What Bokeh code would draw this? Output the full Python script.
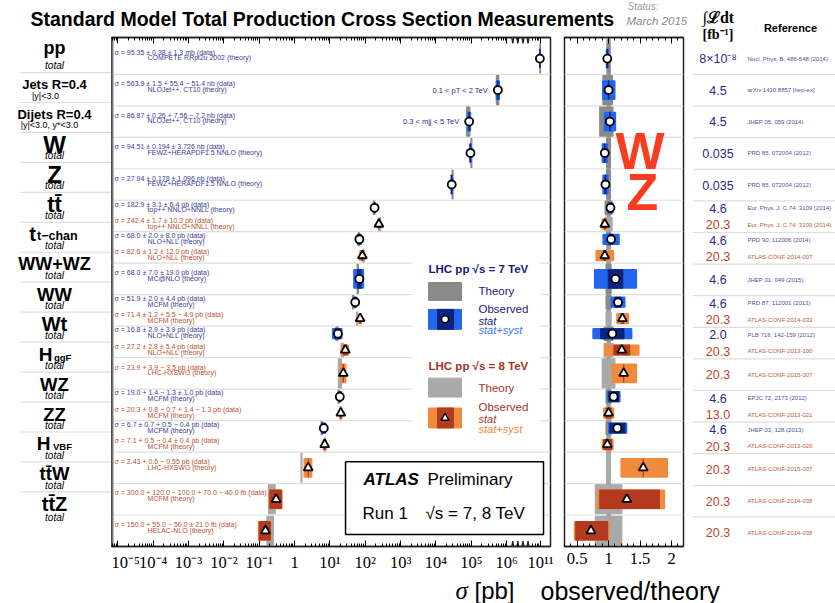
import math
from bokeh.plotting import figure
from bokeh.models import Range1d, FixedTicker, LinearAxis, ColumnDataSource
from bokeh.layouts import row, column
from bokeh.embed import file_html
from bokeh.resources import INLINE
from bokeh.core.properties import value

# ---------------------------------------------------------------- data
processes = ["pp", "Jets", "Dijets", "W", "Z", "ttbar", "t t-chan", "WW+WZ", "WW", "Wt",
             "H ggF", "WZ", "ZZ", "H VBF", "ttW", "ttZ"]
row_label = ["pp", "Jets R=0.4", "Dijets R=0.4", "W", "Z", "tt\u0304", "t", "WW+WZ", "WW", "Wt",
             "H", "WZ", "ZZ", "H", "tt\u0304W", "tt\u0304Z"]
row_label_sub = ["", "", "", "", "", "", "t\u2212chan", "", "", "", "ggF", "", "", "VBF", "", ""]
row_label_below = ["total", "|y|<3.0", "|y|<3.0, y*<3.0"] + ["total"] * 13

meas_row = [0, 1, 2, 3, 4, 5, 5, 6, 6, 7, 8, 8, 9, 9, 10, 11, 11, 12, 12, 13, 14, 15]
meas_energy = [7, 7, 7, 7, 7, 7, 8, 7, 8, 7, 7, 8, 7, 8, 8, 7, 8, 7, 8, 8, 8, 8]
sigma_pb = [95.35e9, 563.9e3, 86.87e3, 94.51e3, 27.94e3, 182.9, 242.4, 68.0, 82.6, 68.0,
            51.9, 71.4, 16.8, 27.2, 23.9, 19.0, 20.3, 6.7, 7.1, 2.43, 0.300, 0.150]
stat_lo = [0.004, 0.003, 0.003, 0.002, 0.006, 0.017, 0.007, 0.029, 0.015, 0.103,
           0.039, 0.017, 0.173, 0.103, 0.0, 0.068, 0.035, 0.104, 0.056, 0.0, 0.333, 0.333]
stat_hi = [0.004, 0.003, 0.003, 0.002, 0.006, 0.017, 0.007, 0.029, 0.015, 0.103,
           0.039, 0.017, 0.173, 0.103, 0.0, 0.074, 0.039, 0.104, 0.070, 0.0, 0.400, 0.367]
tot_lo = [0.014, 0.091, 0.083, 0.040, 0.040, 0.039, 0.043, 0.121, 0.146, 0.298,
          0.093, 0.071, 0.289, 0.224, 0.146, 0.086, 0.073, 0.120, 0.080, 0.226, 0.359, 0.361]
tot_hi = [0.014, 0.098, 0.087, 0.040, 0.040, 0.039, 0.043, 0.121, 0.146, 0.298,
          0.093, 0.079, 0.289, 0.224, 0.163, 0.091, 0.079, 0.128, 0.090, 0.247, 0.463, 0.393]
ratio = [0.98, 1.00, 1.02, 0.94, 0.95, 1.03, 0.94, 1.04, 0.94, 1.11,
         1.15, 1.22, 1.06, 1.21, 1.24, 1.08, 1.00, 1.14, 0.98, 1.55, 1.29, 0.72]
theory_lo = [0.02, 0.09, 0.14, 0.03, 0.03, 0.055, 0.055, 0.03, 0.03, 0.04,
             0.04, 0.04, 0.07, 0.07, 0.10, 0.04, 0.04, 0.04, 0.04, 0.03, 0.21, 0.21]
theory_hi = [0.02, 0.06, 0.07, 0.03, 0.03, 0.055, 0.055, 0.03, 0.03, 0.04,
             0.04, 0.04, 0.07, 0.07, 0.10, 0.04, 0.04, 0.04, 0.04, 0.03, 0.21, 0.21]
lumi = ["8\u00d710\u207b\u2078", "4.5", "4.5", "0.035", "0.035", "4.6", "20.3", "4.6", "20.3", "4.6",
        "4.6", "20.3", "2.0", "20.3", "20.3", "4.6", "13.0", "4.6", "20.3", "20.3", "20.3", "20.3"]
refs = ["Nucl. Phys. B, 486-548 (2014)", "arXiv:1410.8857 [hep-ex]", "JHEP 05, 059 (2014)",
        "PRD 85, 072004 (2012)", "PRD 85, 072004 (2012)", "Eur. Phys. J. C 74: 3109 (2014)",
        "Eur. Phys. J. C 74: 3109 (2014)", "PRD 90, 112006 (2014)", "ATLAS-CONF-2014-007",
        "JHEP 01, 049 (2015)", "PRD 87, 112001 (2013)", "ATLAS-CONF-2014-033",
        "PLB 716, 142-159 (2012)", "ATLAS-CONF-2013-100", "ATLAS-CONF-2015-007",
        "EPJC 72, 2173 (2012)", "ATLAS-CONF-2013-021", "JHEP 03, 128 (2013)",
        "ATLAS-CONF-2013-020", "ATLAS-CONF-2015-007", "ATLAS-CONF-2014-038", "ATLAS-CONF-2014-038"]
data_text = [
    "\u03c3 = 95.35 \u00b1 0.38 \u00b1 1.3 mb (data)",
    "\u03c3 = 563.9 \u00b1 1.5 + 55.4 \u2212 51.4 nb (data)",
    "\u03c3 = 86.87 \u00b1 0.26 + 7.56 \u2212 7.2 nb (data)",
    "\u03c3 = 94.51 \u00b1 0.194 \u00b1 3.726 nb (data)",
    "\u03c3 = 27.94 \u00b1 0.178 \u00b1 1.096 nb (data)",
    "\u03c3 = 182.9 \u00b1 3.1 \u00b1 6.4 pb (data)",
    "\u03c3 = 242.4 \u00b1 1.7 \u00b1 10.2 pb (data)",
    "\u03c3 = 68.0 \u00b1 2.0 \u00b1 8.0 pb (data)",
    "\u03c3 = 82.6 \u00b1 1.2 \u00b1 12.0 pb (data)",
    "\u03c3 = 68.0 \u00b1 7.0 \u00b1 19.0 pb (data)",
    "\u03c3 = 51.9 \u00b1 2.0 \u00b1 4.4 pb (data)",
    "\u03c3 = 71.4 \u00b1 1.2 + 5.5 \u2212 4.9 pb (data)",
    "\u03c3 = 16.8 \u00b1 2.9 \u00b1 3.9 pb (data)",
    "\u03c3 = 27.2 \u00b1 2.8 \u00b1 5.4 pb (data)",
    "\u03c3 = 23.9 + 3.9 \u2212 3.5 pb (data)",
    "\u03c3 = 19.0 + 1.4 \u2212 1.3 \u00b1 1.0 pb (data)",
    "\u03c3 = 20.3 + 0.8 \u2212 0.7 + 1.4 \u2212 1.3 pb (data)",
    "\u03c3 = 6.7 \u00b1 0.7 + 0.5 \u2212 0.4 pb (data)",
    "\u03c3 = 7.1 + 0.5 \u2212 0.4 \u00b1 0.4 pb (data)",
    "\u03c3 = 2.43 + 0.6 \u2212 0.55 pb (data)",
    "\u03c3 = 300.0 + 120.0 \u2212 100.0 + 70.0 \u2212 40.0 fb (data)",
    "\u03c3 = 150.0 + 55.0 \u2212 50.0 \u00b1 21.0 fb (data)",
]
theory_text = ["COMPETE RRpl2u 2002 (theory)", "NLOJet++, CT10 (theory)", "NLOJet++, CT10 (theory)",
               "FEWZ+HERAPDF1.5 NNLO (theory)", "FEWZ+HERAPDF1.5 NNLO (theory)",
               "top++ NNLO+NNLL (theory)", "top++ NNLO+NNLL (theory)", "NLO+NLL (theory)",
               "NLO+NLL (theory)", "MC@NLO (theory)", "MCFM (theory)", "MCFM (theory)",
               "NLO+NLL (theory)", "NLO+NLL (theory)", "LHC-HXSWG (theory)", "MCFM (theory)",
               "MCFM (theory)", "MCFM (theory)", "MCFM (theory)", "LHC-HXSWG (theory)",
               "MCFM (theory)", "HELAC-NLO (theory)"]
note_meas = [1, 2]
note_text = ["0.1 < pT < 2 TeV", "0.3 < mjj < 5 TeV"]

main_tick_exp = [-5, -4, -3, -2, -1, 0, 1, 2, 3, 4, 5, 6, 11]
main_tick_labels = ["10\u207b\u2075", "10\u207b\u2074", "10\u207b\u00b3", "10\u207b\u00b2", "10\u207b\u00b9",
                    "1", "10\u00b9", "10\u00b2", "10\u00b3", "10\u2074", "10\u2075", "10\u2076", "10\u00b9\u00b9"]
ratio_ticks = [0.5, 1.0, 1.5, 2.0]
ratio_tick_labels = ["0.5", "1", "1.5", "2"]

# ---------------------------------------------------------------- layout constants
SANS, SERIF = "Liberation Sans", "Liberation Serif"
FRAME_H = 511
Y_TOP = 16.17
PPU = FRAME_H / Y_TOP
X_MIN, X_MAX = -5.18, 7.24
R_MIN, R_MAX = 0.30, 2.19
BREAK_AT, BREAK_SHIFT = 8.0, 4.04
SEP = "#dedede"
E_COL = {
    7: dict(tot="#2266ee", stat="#0c237e", theory="#8a8a8a", text="#3b3b98", lumi="#2a2a8c", ref="#5050a0"),
    8: dict(tot="#f08a3d", stat="#b33a1f", theory="#a9a9a9", text="#bb5231", lumi="#c0452a", ref="#c05a3a"),
}


def pos(lg):
    return lg - BREAK_SHIFT if lg > BREAK_AT else lg


def bx(px):  # image pixel -> main panel coordinate (layout only)
    return -5 + (px - 117.3) / 35.35


def by(py):  # image pixel -> row coordinate (layout only)
    return 15 + (73 - py) / PPU


def make_fig(w, h, xr, yr, mb=(0, 0, 0, 0), x_axis=None):
    p = figure(width=w, height=h, x_range=Range1d(*xr), y_range=Range1d(*yr),
               output_backend="svg", toolbar_location=None, tools="",
               x_axis_location=x_axis, y_axis_location=None,
               min_border_top=mb[0], min_border_right=mb[1],
               min_border_bottom=mb[2], min_border_left=mb[3])
    p.xgrid.visible = False
    p.ygrid.visible = False
    p.outline_line_color = None
    p.background_fill_color = "white"
    p.border_fill_color = "white"
    return p


def txt(p, x, y, t, size, color="black", font=SANS, style="normal", align="left", baseline="middle"):
    p.text(x=[x], y=[y], text=[t], text_font=value(font), text_font_size=value(size),
           text_font_style=value(style), text_color=color, text_align=value(align),
           text_baseline=value(baseline))


def style_axis(a, ticks, minor, labels):
    a.ticker = FixedTicker(ticks=ticks, minor_ticks=minor)
    a.major_label_overrides = {t_: l_ for t_, l_ in zip(ticks, labels)}
    a.major_tick_in, a.major_tick_out = 6, 0
    a.minor_tick_in, a.minor_tick_out = 3, 0
    a.major_label_standoff = 6
    a.major_label_text_font = SERIF
    a.major_label_text_font_size = "16.5px"
    a.major_label_text_color = "black"
    a.axis_line_color = "#222222"
    a.axis_line_width = 1.5


def mirror_axis(ticks, minor):
    return LinearAxis(ticker=FixedTicker(ticks=ticks, minor_ticks=minor),
                      major_tick_in=6, major_tick_out=0, minor_tick_in=3, minor_tick_out=0,
                      major_label_text_font_size="1px", major_label_text_color=None,
                      major_label_standoff=0, axis_line_color="#222222", axis_line_width=1.5)


# ---------------------------------------------------------------- derived per-measurement values
n = len(sigma_pb)
row_count = [meas_row.count(r) for r in range(len(processes))]
meas_y, single = [], []
for i in range(n):
    c = 15.5 - meas_row[i]
    s = row_count[meas_row[i]] == 1
    if not s:
        c += 0.26 if meas_energy[i] == 7 else -0.26
    meas_y.append(c)
    single.append(s)
obs_h = [0.58 if s else 0.31 for s in single]
th_h = [0.92 if s else 0.42 for s in single]
theo = [s / r for s, r in zip(sigma_pb, ratio)]

src = ColumnDataSource(dict(
    y=meas_y,
    x=[pos(math.log10(s)) for s in sigma_pb],
    th_l=[pos(math.log10(t * (1 - a))) for t, a in zip(theo, theory_lo)],
    th_r=[pos(math.log10(t * (1 + b))) for t, b in zip(theo, theory_hi)],
    tot_l=[pos(math.log10(s * (1 - a))) for s, a in zip(sigma_pb, tot_lo)],
    tot_r=[pos(math.log10(s * (1 + b))) for s, b in zip(sigma_pb, tot_hi)],
    st_l=[pos(math.log10(s * (1 - a))) for s, a in zip(sigma_pb, stat_lo)],
    st_r=[pos(math.log10(s * (1 + b))) for s, b in zip(sigma_pb, stat_hi)],
    th_b=[y - h / 2 for y, h in zip(meas_y, th_h)],
    th_t=[y + h / 2 for y, h in zip(meas_y, th_h)],
    ob_b=[y - h / 2 for y, h in zip(meas_y, obs_h)],
    ob_t=[y + h / 2 for y, h in zip(meas_y, obs_h)],
    r=ratio,
    r_th_l=[1 - a for a in theory_lo],
    r_th_r=[1 + b for b in theory_hi],
    r_tot_l=[r * (1 - a) for r, a in zip(ratio, tot_lo)],
    r_tot_r=[r * (1 + b) for r, b in zip(ratio, tot_hi)],
    r_st_l=[r * (1 - a) for r, a in zip(ratio, stat_lo)],
    r_st_r=[r * (1 + b) for r, b in zip(ratio, stat_hi)],
    c_tot=[E_COL[e]["tot"] for e in meas_energy],
    c_stat=[E_COL[e]["stat"] for e in meas_energy],
    c_th=[E_COL[e]["theory"] for e in meas_energy],
    c_text=[E_COL[e]["text"] for e in meas_energy],
    c_lumi=[E_COL[e]["lumi"] for e in meas_energy],
    c_ref=[E_COL[e]["ref"] for e in meas_energy],
    mk=["circle" if e == 7 else "triangle" for e in meas_energy],
    ms=[8 if e == 7 else 9 for e in meas_energy],
    dtext=data_text, ttext=theory_text, lumi=lumi, ref=refs,
    dty=[y + (0.2 if s else 0.12) for y, s in zip(meas_y, single)],
    tty=[y + (0.02 if s else -0.07) for y, s in zip(meas_y, single)],
))
seps = [float(k) for k in range(1, 16)]

ROW_H = 541      # height of the panel row (image y 33 -> 574)
BOT = 26         # space under the frames for the tick labels

# ---------------------------------------------------------------- main panel (B)
pB = make_fig(446, ROW_H, (X_MIN, X_MAX), (0, Y_TOP), mb=(4, 7, BOT, 0), x_axis="below")
pB.outline_line_color = "#222222"
pB.outline_line_width = 1.5
main_pos = [pos(e) for e in main_tick_exp]
main_minor = []
for d in range(-6, 7):
    for k in range(2, 10):
        v = d + math.log10(k)
        if X_MIN < v < 6.45:
            main_minor.append(v)
for k in range(6, 10):
    main_minor.append(pos(10 + math.log10(k)))
style_axis(pB.xaxis[0], main_pos, main_minor, main_tick_labels)
pB.add_layout(mirror_axis(main_pos, main_minor), "above")

pB.segment(x0=[X_MIN] * 15, y0=seps, x1=[X_MAX] * 15, y1=seps, line_color=SEP, line_width=1.2)
# legend background and ATLAS box
pB.quad(left=[bx(412)], right=[bx(540)], bottom=[by(440)], top=[by(250)],
        fill_color="white", line_color=None)
pB.quad(left=[bx(345)], right=[bx(543)], bottom=[by(535)], top=[by(462)],
        fill_color="white", line_color="black", line_width=1.5)
pB.segment(x0=[X_MIN], y0=[0], x1=[X_MIN], y1=[Y_TOP], line_color="#777777", line_width=4)

pB.quad(left="th_l", right="th_r", bottom="th_b", top="th_t", fill_color="c_th",
        line_color="c_th", line_width=1.2, source=src)
pB.quad(left="tot_l", right="tot_r", bottom="ob_b", top="ob_t", fill_color="c_tot",
        line_color="c_tot", line_width=1.5, source=src)
pB.quad(left="st_l", right="st_r", bottom="ob_b", top="ob_t", fill_color="c_stat",
        line_color="c_stat", line_width=1.2, source=src)
pB.scatter(x="x", y="y", marker="mk", size="ms", fill_color="white", line_color="black",
           line_width=1.8, source=src)
pB.text(x=bx(114), y="dty", text="dtext", text_color="c_text", text_font=value(SANS),
        text_font_size=value("7px"), text_baseline=value("middle"), source=src)
pB.text(x=bx(147), y="tty", text="ttext", text_color="c_text", text_font=value(SANS),
        text_font_size=value("7px"), text_baseline=value("middle"), source=src)
for i, t in zip(note_meas, note_text):
    txt(pB, pos(math.log10(sigma_pb[i])) - 0.28, meas_y[i], t, "7.5px", "#2b2b8c", align="right")

# zig-zag axis breaks
zx = [6.10 + 0.072 * k for k in range(9)]
pB.line(zx, [Y_TOP + (0.28 if k % 2 == 0 else -0.19) for k in range(9)], line_color="#222222", line_width=1.3)
pB.line(zx, [(-0.3 if k % 2 == 0 else 0.17) for k in range(9)], line_color="#222222", line_width=1.3)

# legend
for e, ty, thy, oy, lines in [(7, 268, (282, 300), (309, 329), (309, 321, 330)),
                              (8, 366, (378, 397), (408, 428), (407, 419, 429))]:
    col = E_COL[e]
    dark = "#1a1a78" if e == 7 else "#a8321e"
    txt(pB, bx(428), by(ty), "LHC pp  \u221as = %d TeV" % e, "11.5px", dark, style="bold")
    pB.quad(left=[bx(428)], right=[bx(461)], bottom=[by(thy[1])], top=[by(thy[0])],
            fill_color=col["theory"], line_color=col["theory"])
    txt(pB, bx(478), by((thy[0] + thy[1]) / 2), "Theory", "11.5px", dark)
    pB.quad(left=[bx(428)], right=[bx(461)], bottom=[by(oy[1])], top=[by(oy[0])],
            fill_color=col["tot"], line_color=col["tot"])
    pB.quad(left=[bx(437)], right=[bx(453)], bottom=[by(oy[1])], top=[by(oy[0])],
            fill_color=col["stat"], line_color=col["stat"])
    pB.scatter([bx(444.5)], [by((oy[0] + oy[1]) / 2)], marker="circle" if e == 7 else "triangle",
               size=7 if e == 7 else 8, fill_color="white", line_color="black", line_width=1.5)
    txt(pB, bx(478), by(lines[0]), "Observed", "11.5px", dark)
    txt(pB, bx(478), by(lines[1]), "stat", "11px", dark, style="italic")
    txt(pB, bx(478), by(lines[2]), "stat+syst", "11px", "#3a78f0" if e == 7 else "#f08a3d", style="italic")

txt(pB, bx(363), by(480), "ATLAS", "17px", "black", style="bold italic")
txt(pB, bx(427), by(480), "Preliminary", "17px", "black")
txt(pB, bx(362), by(514), "Run 1", "17px", "black")
txt(pB, bx(425), by(514), "\u221as = 7, 8 TeV", "17px", "black")

# ---------------------------------------------------------------- ratio panel (C)
pC = make_fig(135, ROW_H, (R_MIN, R_MAX), (0, Y_TOP), mb=(4, 9, BOT, 7), x_axis="below")
pC.outline_line_color = "#222222"
pC.outline_line_width = 1.5
r_minor = [round(0.3 + 0.1 * k, 2) for k in range(19)]
style_axis(pC.xaxis[0], ratio_ticks, r_minor, ratio_tick_labels)
pC.add_layout(mirror_axis(ratio_ticks, r_minor), "above")
pC.segment(x0=[R_MIN] * 15, y0=seps, x1=[R_MAX] * 15, y1=seps, line_color=SEP, line_width=1.2)
pC.quad(left=[0.965], right=[1.035], bottom=[0], top=[Y_TOP], fill_color="#999999", line_color=None)
pC.quad(left="r_th_l", right="r_th_r", bottom="th_b", top="th_t", fill_color="c_th",
        line_color="c_th", line_width=1.2, source=src)
pC.quad(left="r_tot_l", right="r_tot_r", bottom="ob_b", top="ob_t", fill_color="c_tot",
        line_color="c_tot", line_width=1.5, source=src)
pC.quad(left="r_st_l", right="r_st_r", bottom="ob_b", top="ob_t", fill_color="c_stat",
        line_color="c_stat", line_width=1.2, source=src)
pC.scatter(x="r", y="y", marker="mk", size="ms", fill_color="white", line_color="black",
           line_width=1.8, source=src)
txt(pC, 1.50, by(150), "W", "52px", "#fa3c1e", style="bold", align="center")
txt(pC, 1.535, by(191), "Z", "52px", "#fa3c1e", style="bold", align="center")

# ---------------------------------------------------------------- process labels (A)
A_W = 111
pA = make_fig(A_W, ROW_H, (0, A_W), (Y_TOP - (ROW_H - 4) / PPU, Y_TOP), mb=(4, 0, 0, 0))
pA.segment(x0=[20] * 15, y0=seps, x1=[A_W] * 15, y1=seps, line_color=SEP, line_width=1.2)
lab_size = [18, 13, 13, 24, 24, 22, 20, 18, 18.5, 20, 19, 18.5, 18.5, 19, 18.5, 20]
sub_anchor = {6: (35.5, 36.5, "12.5px", -0.05), 10: (52, 53.5, "9.5px", -0.1), 13: (50, 52.5, "9.5px", -0.1)}
below_x = {1: 45, 2: 49}
below_dy = {0: -0.28, 2: -0.24, 15: -0.36}
for r in range(len(processes)):
    c = 15.5 - r
    dy = 0.33 if r == 0 else 0.1
    size = "%gpx" % lab_size[r]
    if row_label_sub[r]:
        mx, sx, ss, sdy = sub_anchor[r]
        txt(pA, mx, c + dy, row_label[r], size, "black", style="bold", align="right")
        txt(pA, sx, c + dy + sdy, row_label_sub[r], ss, "black", style="bold")
    else:
        txt(pA, 54, c + dy, row_label[r], size, "black", style="bold", align="center")
    is_total = row_label_below[r] == "total"
    txt(pA, below_x.get(r, 54), c + below_dy.get(r, -0.27), row_label_below[r],
        "10px" if is_total else "9px", "black", style="italic" if is_total else "normal", align="center")

# ---------------------------------------------------------------- luminosity and references (D)
D_W, D_H = 143, 574
pD = make_fig(D_W, D_H, (0, D_W), (0, Y_TOP + 37 / PPU), mb=(0, 0, BOT, 0))
pD.segment(x0=[0] * 15, y0=seps, x1=[D_W] * 15, y1=seps, line_color=SEP, line_width=1.2)
pD.text(x=25.5, y="y", text="lumi", text_color="c_lumi", text_font=value(SANS),
        text_font_size=value("12.5px"), text_align=value("center"), text_baseline=value("middle"), source=src)
pD.text(x=55, y="y", text="ref", text_color="c_ref", text_font=value(SANS),
        text_font_size=value("6px"), text_baseline=value("middle"), source=src)
txt(pD, 10, by(16), "\u222b\u2112dt", "16px", "black", font=SERIF, style="bold")
txt(pD, 10, by(33), "[fb\u207b\u00b9]", "14px", "black", font=SERIF, style="bold")
txt(pD, 98, by(27), "Reference", "11px", "black", style="bold", align="center")

# ---------------------------------------------------------------- header & footer
pH = make_fig(692, 33, (0, 692), (0, 33))
txt(pH, 30, 15, "Standard Model Total Production Cross Section Measurements", "19.5px", "black", style="bold")
txt(pH, 627, 27, "Status:", "10px", "#9a9a9a", style="italic")
txt(pH, 626, 13, "March 2015", "11.5px", "#8c8c8c", style="italic")

pF = make_fig(835, 29, (0, 835), (0, 29))
txt(pF, 455, 13, "\u03c3", "25px", "black", font=SERIF, style="italic")
txt(pF, 474, 13, "[pb]", "24px", "black")
txt(pF, 540, 13, "observed/theory", "25px", "black")

layout = column(row(column(pH, row(pA, pB, pC)), pD), pF)
open("out.html", "w").write(file_html(layout, INLINE))
